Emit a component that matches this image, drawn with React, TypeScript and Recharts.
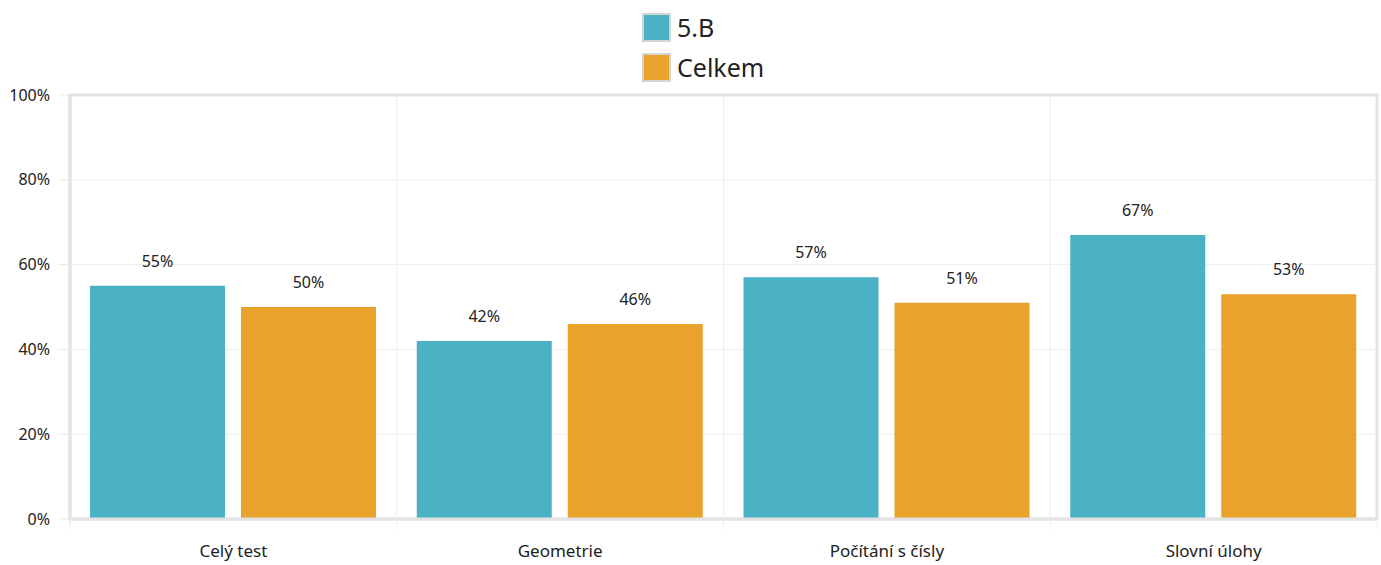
import { useEffect } from 'react';
import {
  BarChart,
  Bar,
  XAxis,
  YAxis,
  CartesianGrid,
  Legend,
  LabelList,
  ReferenceArea,
} from 'recharts';

const categories = ['Celý test', 'Geometrie', 'Počítání s čísly', 'Slovní úlohy'];
const classValues = [55, 42, 57, 67];
const totalValues = [50, 46, 51, 53];
const yTicks = [0, 20, 40, 60, 80, 100];

const seriesList = [
  { key: 'trida', name: '5.B', color: '#4bb1c5' },
  { key: 'celkem', name: 'Celkem', color: '#e9a22b' },
];

const data = categories.map((c, i) => ({
  kategorie: c,
  trida: classValues[i],
  celkem: totalValues[i],
}));

const FONT = '"Noto Sans", "Open Sans", sans-serif';
const BORDER = '#e3e3e3';
const GRID = '#eeeeee';

function LegendBox() {
  return (
    <div style={{ display: 'flex', flexDirection: 'column', alignItems: 'flex-start', marginLeft: 622 }}>
      {seriesList.map((s) => (
        <div key={s.key} style={{ display: 'flex', alignItems: 'center', height: 40 }}>
          <span
            style={{
              display: 'inline-block',
              width: 25,
              height: 25,
              background: s.color,
              border: '2px solid #d4d4d4',
              marginRight: 6,
            }}
          />
          <span style={{ fontSize: 25, color: '#222', fontFamily: FONT, lineHeight: '28px' }}>{s.name}</span>
        </div>
      ))}
    </div>
  );
}

// category label plus the small tick marks at the band edges
function CategoryTick(props: any) {
  const { x, y, payload, width, visibleTicksCount, index } = props;
  const half = width / visibleTicksCount / 2;
  const last = index === visibleTicksCount - 1;
  return (
    <g>
      <line x1={x - half} x2={x - half} y1={y} y2={y + 11} stroke={GRID} />
      {last && <line x1={x + half} x2={x + half} y1={y} y2={y + 11} stroke={GRID} />}
      <text x={x} y={y + 38} textAnchor="middle" fill="#222" fontSize={17} fontFamily={FONT}>
        {payload.value}
      </text>
    </g>
  );
}

export default function App() {
  useEffect(() => {
    document.body.style.margin = '0';
  }, []);

  return (
    <div style={{ width: 1381, height: 565, background: '#fff', fontFamily: FONT }}>
      <BarChart
        width={1381}
        height={565}
        data={data}
        margin={{ top: 7, right: 4, bottom: 6, left: 20 }}
        barSize={135}
        barGap={16}
      >
        <Legend verticalAlign="top" height={88} content={() => <LegendBox />} />
        <CartesianGrid
          stroke={GRID}
          verticalCoordinatesGenerator={({ offset }: any) =>
            categories.map((_, i) => offset.left + (offset.width * i) / categories.length)
          }
        />
        <XAxis
          xAxisId="cat"
          dataKey="kategorie"
          height={40}
          axisLine={{ stroke: BORDER, strokeWidth: 3 }}
          tickLine={false}
          tickSize={0}
          tickMargin={0}
          tick={<CategoryTick />}
          interval={0}
        />
        <YAxis
          domain={[0, 100]}
          ticks={yTicks}
          width={50}
          tickFormatter={(v) => `${v}%`}
          tick={{ fill: '#222', fontSize: 16, fontFamily: FONT }}
          tickSize={12}
          tickMargin={8}
          tickLine={{ stroke: '#e8e8e8' }}
          axisLine={{ stroke: BORDER, strokeWidth: 3 }}
        />
        <ReferenceArea
          xAxisId="cat"
          y1={0}
          y2={100}
          fill="none"
          stroke={BORDER}
          strokeWidth={3}
          ifOverflow="visible"
        />
        {seriesList.map((s) => (
          <Bar key={s.key} xAxisId="cat" dataKey={s.key} name={s.name} fill={s.color} isAnimationActive={false}>
            <LabelList
              dataKey={s.key}
              position="top"
              offset={19}
              formatter={(v: number) => `${v}%`}
              style={{ fill: '#222', fontSize: 16, fontFamily: FONT }}
            />
          </Bar>
        ))}
      </BarChart>
    </div>
  );
}
